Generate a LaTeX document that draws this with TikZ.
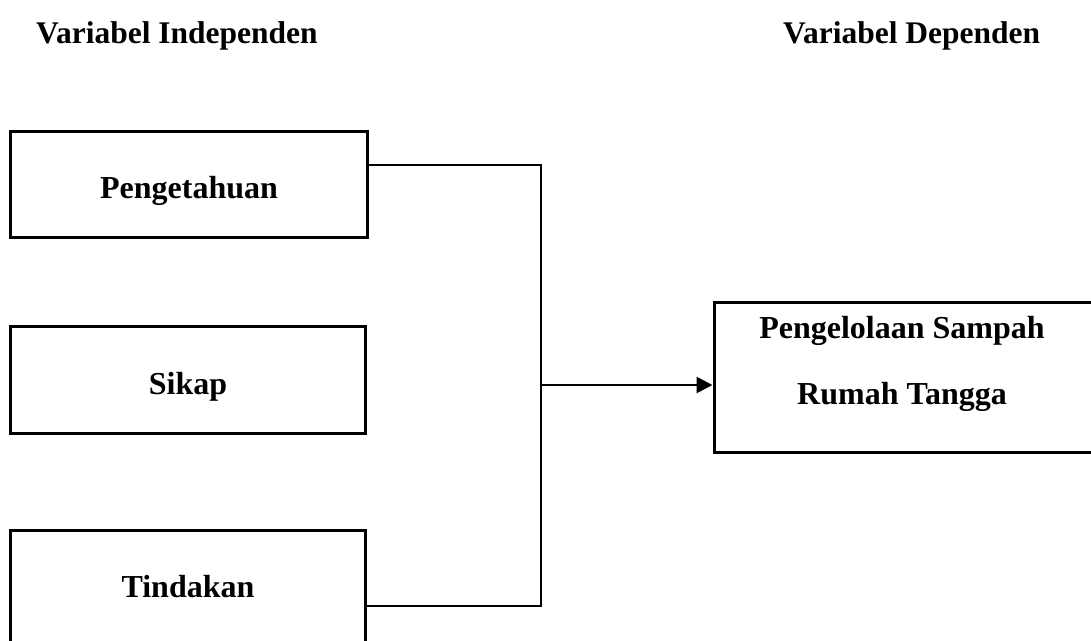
\documentclass[tikz,border=0pt]{standalone}
\usepackage{fontspec}
\setmainfont{Liberation Serif}
\usetikzlibrary{arrows.meta}
\tikzset{
  box/.style={draw=black, line width=3pt, inner sep=0pt, fill=none},
  lbl/.style={inner sep=0pt, font=\fontsize{32}{38}\selectfont\bfseries},
  head/.style={inner sep=0pt, font=\fontsize{31.5}{38}\selectfont\bfseries},
  conn/.style={draw=black, line width=2.7pt},
  arr/.style={conn, -{Triangle[length=16pt,width=16pt]}}
}
\begin{document}
\begin{tikzpicture}[x=1pt,y=-1pt]
\useasboundingbox (0,0) rectangle (1091,640);
\clip (0,0) rectangle (1091,640);
% headings
\node[head, anchor=base west] (hind) at (36,43) {Variabel Independen};
\node[head, anchor=base west] (hdep) at (783,43) {Variabel Dependen};
% boxes
\node[box, minimum width=357pt, minimum height=106pt] (pk) at (188.5,184) {};
\node[box, minimum width=355pt, minimum height=107pt] (sk) at (187.5,379.5) {};
\node[box, minimum width=355pt, minimum height=120pt] (td) at (187.5,590) {};
\node[box, minimum width=380pt, minimum height=150pt] (rb) at (904,377) {};
% box texts
\node[lbl, anchor=base] (pkt) at (189,198) {Pengetahuan};
\node[lbl, anchor=base] (skt) at (188,394) {Sikap};
\node[lbl, anchor=base] (tdt) at (188,597) {Tindakan};
\node[lbl, anchor=base] (rbt1) at (902,338) {Pengelolaan Sampah};
\node[lbl, anchor=base] (rbt2) at (902,404) {Rumah Tangga};
% connectors
\coordinate (jt) at (541,165);
\coordinate (jb) at (541,606);
\coordinate (jm) at (541,385);
\draw[conn] (pk.east |- jt) -- (jt) -- (jb) -- (td.east |- jb);
\draw[arr] (jm) -- (rb.west |- jm);
\end{tikzpicture}
\end{document}
